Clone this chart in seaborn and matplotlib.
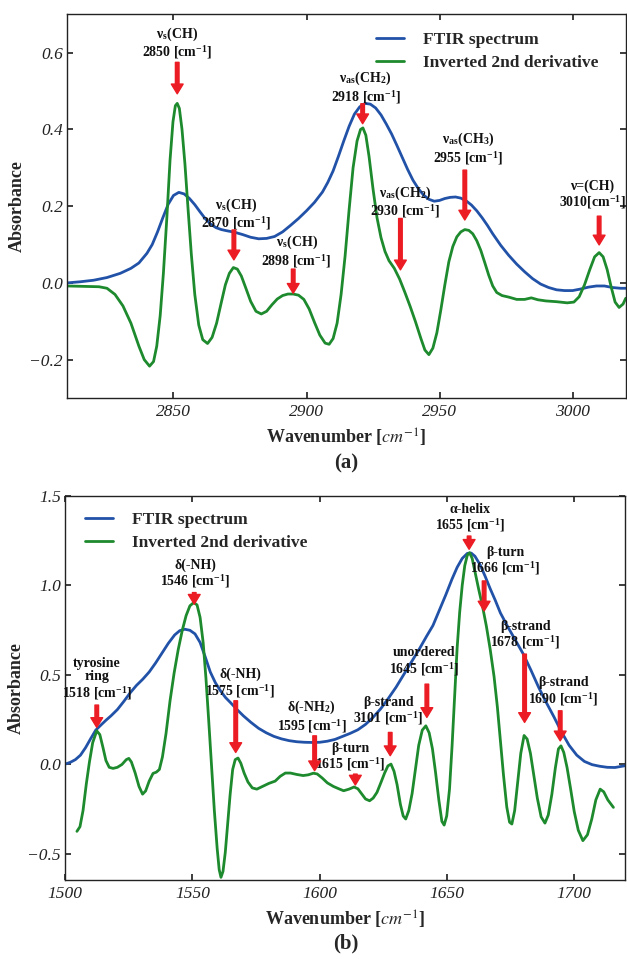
import pandas as pd
import numpy as np
import matplotlib
matplotlib.use("Agg")
import matplotlib.pyplot as plt
import seaborn as sns

# ---- panel (a): C-H stretching region ----
ftir_a_wn = [2810, 2815, 2820, 2825, 2830, 2834, 2837, 2840, 2842, 2844, 2846, 2848, 2850,
             2852, 2854, 2856, 2858, 2860, 2862, 2864, 2866, 2868, 2870, 2873, 2876, 2879,
             2882, 2885, 2888, 2891, 2894, 2897, 2900, 2903, 2906, 2908, 2910, 2912, 2914,
             2916, 2918, 2920, 2922, 2924, 2926, 2928, 2930, 2932, 2934, 2936, 2938, 2940,
             2942, 2944, 2946, 2948, 2950, 2952, 2954, 2956, 2958, 2960, 2962, 2964, 2966,
             2968, 2970, 2973, 2976, 2979, 2982, 2985, 2988, 2991, 2994, 2997, 3000, 3003,
             3006, 3009, 3012, 3015, 3018, 3020]
ftir_a_abs = [0.000, 0.003, 0.007, 0.014, 0.025, 0.038, 0.052, 0.077, 0.100, 0.133, 0.170,
              0.205, 0.228, 0.236, 0.232, 0.220, 0.204, 0.185, 0.167, 0.153, 0.144, 0.139,
              0.136, 0.132, 0.126, 0.119, 0.115, 0.116, 0.121, 0.133, 0.150, 0.168, 0.188,
              0.210, 0.237, 0.262, 0.292, 0.330, 0.370, 0.408, 0.440, 0.459, 0.468, 0.466,
              0.456, 0.438, 0.414, 0.388, 0.358, 0.327, 0.296, 0.268, 0.246, 0.229, 0.218,
              0.213, 0.215, 0.220, 0.223, 0.224, 0.221, 0.214, 0.203, 0.188, 0.170, 0.150,
              0.128, 0.098, 0.072, 0.049, 0.029, 0.011, -0.003, -0.012, -0.018, -0.020,
              -0.020, -0.016, -0.011, -0.008, -0.008, -0.012, -0.014, -0.014]

deriv_a_wn = [2810, 2816, 2822, 2825, 2828, 2831, 2834, 2837, 2839, 2841, 2842.5, 2843.7,
              2845, 2846.2, 2847.5, 2848.7, 2849.8, 2850.7, 2851.4, 2852.2, 2853.2, 2854.3,
              2855.5, 2856.7, 2858, 2859.5, 2861, 2862.8, 2864.5, 2866.2, 2868, 2869.5, 2871,
              2872.5, 2874, 2875.5, 2877, 2879, 2881, 2883, 2885, 2887, 2889, 2891, 2893,
              2895, 2897, 2899, 2901, 2903, 2905, 2907, 2908.5, 2910, 2911.5, 2913, 2914.5,
              2916, 2917.5, 2919, 2920.3, 2921.2, 2922.3, 2923.5, 2925, 2926.5, 2928, 2929.5,
              2931, 2933, 2935, 2937, 2939, 2941, 2943, 2944.5, 2946, 2947.5, 2949, 2950.5,
              2952, 2953.5, 2955, 2956.5, 2958, 2959.5, 2961, 2962.5, 2964, 2965.5, 2967,
              2968.5, 2970, 2971.5, 2973.5, 2976, 2979, 2982, 2984.5, 2987, 2990, 2994, 2998,
              3000.5, 3002.5, 3004.5, 3006.5, 3008.3, 3010, 3011.5, 3013, 3014.5, 3016,
              3017.5, 3019, 3020]
deriv_a_abs = [-0.008, -0.009, -0.010, -0.014, -0.030, -0.060, -0.105, -0.165, -0.200, -0.217,
               -0.205, -0.165, -0.085, 0.025, 0.170, 0.320, 0.420, 0.462, 0.468, 0.455, 0.400,
               0.310, 0.190, 0.075, -0.030, -0.110, -0.148, -0.158, -0.142, -0.105, -0.050,
               -0.005, 0.025, 0.040, 0.036, 0.018, -0.010, -0.048, -0.074, -0.081, -0.074,
               -0.057, -0.042, -0.033, -0.029, -0.029, -0.032, -0.043, -0.068, -0.103, -0.136,
               -0.157, -0.160, -0.145, -0.105, -0.030, 0.070, 0.190, 0.300, 0.370, 0.400,
               0.404, 0.385, 0.330, 0.245, 0.170, 0.118, 0.082, 0.058, 0.038, 0.010, -0.025,
               -0.062, -0.102, -0.145, -0.175, -0.187, -0.170, -0.130, -0.070, -0.005, 0.055,
               0.095, 0.120, 0.133, 0.139, 0.137, 0.128, 0.110, 0.085, 0.053, 0.020, -0.008,
               -0.025, -0.033, -0.037, -0.043, -0.043, -0.039, -0.044, -0.047, -0.049, -0.052,
               -0.050, -0.036, -0.005, 0.035, 0.068, 0.079, 0.068, 0.035, -0.010, -0.050,
               -0.064, -0.055, -0.040]

# peak labels for (a): label, text position, arrow x, arrow top, arrow tip
cm = r" [cm$^\mathregular{-1}$]"
labels_a = [r"ν$_\mathregular{s}$(CH)" + "\n2850" + cm,
            r"ν$_\mathregular{s}$(CH)" + "\n2870" + cm,
            r"ν$_\mathregular{s}$(CH)" + "\n2898" + cm,
            r"ν$_\mathregular{as}$(CH$_\mathregular{2}$)" + "\n2918" + cm,
            r"ν$_\mathregular{as}$(CH$_\mathregular{2}$)" + "\n2930" + cm,
            r"ν$_\mathregular{as}$(CH$_\mathregular{3}$)" + "\n2955" + cm,
            "ν=(CH)\n" + r"3010[cm$^\mathregular{-1}$]"]
label_a_x = [2851.3, 2873.7, 2896.3, 2922.3, 2937.0, 2960.7, 3007.5]
label_a_y = [0.625, 0.179, 0.081, 0.509, 0.210, 0.349, 0.228]
arrow_a_x = [2851.4, 2872.7, 2895.0, 2921.1, 2935.3, 2959.5, 3010.0]
arrow_a_top = [0.575, 0.138, 0.036, 0.467, 0.168, 0.294, 0.174]
arrow_a_tip = [0.493, 0.060, -0.027, 0.415, 0.034, 0.164, 0.099]

# ---- panel (b): amide region ----
ftir_b_wn = [1500, 1502, 1504, 1506, 1508, 1510, 1512, 1514, 1516, 1518, 1520.5, 1523, 1525.5,
             1528, 1530.5, 1533, 1535.5, 1538, 1540.5, 1543, 1545, 1547, 1549, 1551, 1553,
             1555, 1557, 1559, 1561, 1563, 1565, 1567.5, 1570, 1573, 1576, 1579, 1582, 1585,
             1588, 1591, 1594, 1597, 1600, 1603, 1606, 1609, 1612, 1615, 1618, 1621, 1624,
             1627, 1630, 1633, 1636, 1639, 1642, 1644.5, 1647, 1649.5, 1652, 1654, 1656, 1658,
             1659.5, 1661, 1663, 1665, 1667, 1669, 1671, 1674, 1677, 1680, 1683, 1686, 1689,
             1692, 1695, 1698, 1701, 1704, 1707, 1710, 1713, 1716, 1720]
ftir_b_abs = [0.000, 0.010, 0.025, 0.050, 0.092, 0.142, 0.190, 0.218, 0.245, 0.270, 0.305,
              0.350, 0.398, 0.440, 0.475, 0.515, 0.565, 0.620, 0.675, 0.722, 0.746, 0.754,
              0.748, 0.728, 0.680, 0.600, 0.515, 0.455, 0.410, 0.372, 0.343, 0.305, 0.270,
              0.233, 0.200, 0.175, 0.155, 0.141, 0.131, 0.125, 0.122, 0.121, 0.122, 0.128,
              0.138, 0.155, 0.172, 0.192, 0.222, 0.262, 0.310, 0.368, 0.430, 0.500, 0.570,
              0.640, 0.715, 0.775, 0.860, 0.945, 1.035, 1.100, 1.150, 1.178, 1.180, 1.162,
              1.115, 1.050, 0.980, 0.915, 0.845, 0.765, 0.690, 0.615, 0.525, 0.430, 0.345,
              0.265, 0.180, 0.105, 0.050, 0.015, -0.003, -0.012, -0.018, -0.019, -0.009]

deriv_b_wn = [1504.6, 1505.8, 1507, 1508.3, 1509.5, 1510.8, 1512.4, 1513.6, 1514.8, 1516,
              1517.3, 1518.8, 1520.5, 1522.3, 1524, 1525, 1526, 1527.5, 1529, 1530.4, 1531.6,
              1533, 1534.5, 1535.8, 1537, 1538.2, 1539.6, 1541.2, 1542.8, 1544.4, 1546, 1547.5,
              1549, 1550.5, 1551.8, 1553, 1554.2, 1555.3, 1556.4, 1557.5, 1558.6, 1559.7,
              1560.5, 1561.2, 1562, 1562.9, 1563.8, 1564.8, 1565.8, 1566.8, 1567.9, 1569,
              1570.3, 1571.8, 1573.5, 1575.3, 1577.5, 1580, 1582.5, 1584.5, 1586.5, 1588.5,
              1591, 1593.5, 1595.5, 1597.5, 1599, 1601, 1603, 1605.4, 1607.5, 1609.4, 1611.5,
              1613.5, 1615, 1616.6, 1618, 1619.6, 1621, 1622.5, 1624, 1625.5, 1626.8, 1628,
              1629.2, 1630.4, 1631.7, 1632.8, 1633.8, 1635, 1636.3, 1637.6, 1638.9, 1640.3,
              1641.7, 1643, 1644.3, 1645.5, 1646.8, 1648, 1648.9, 1649.9, 1651, 1652, 1653,
              1654, 1655, 1656, 1657, 1658, 1658.9, 1659.9, 1661, 1662.5, 1664, 1665.5, 1667,
              1668.5, 1669.8, 1671, 1672.2, 1673.5, 1674.6, 1675.5, 1676.6, 1677.8, 1679,
              1680.3, 1681.5, 1682.8, 1684.1, 1685.5, 1687, 1688.5, 1689.8, 1691.2, 1692.6,
              1693.8, 1694.8, 1695.9, 1697.2, 1698.6, 1700, 1701.6, 1703.4, 1705.2, 1706.9,
              1708.5, 1710.2, 1711.6, 1713.2, 1715.4]
deriv_b_abs = [-0.376, -0.350, -0.260, -0.110, 0.010, 0.120, 0.186, 0.165, 0.095, 0.020,
               -0.018, -0.024, -0.018, -0.002, 0.025, 0.032, 0.012, -0.050, -0.125, -0.168,
               -0.150, -0.095, -0.052, -0.045, -0.030, 0.040, 0.170, 0.355, 0.510, 0.640,
               0.748, 0.830, 0.885, 0.903, 0.890, 0.820, 0.680, 0.480, 0.240, -0.010, -0.260,
               -0.470, -0.590, -0.633, -0.600, -0.493, -0.340, -0.170, -0.030, 0.025, 0.034,
               0.005, -0.050, -0.100, -0.133, -0.140, -0.125, -0.108, -0.095, -0.068, -0.050,
               -0.050, -0.058, -0.064, -0.060, -0.051, -0.055, -0.078, -0.105, -0.125, -0.138,
               -0.149, -0.140, -0.128, -0.138, -0.168, -0.195, -0.205, -0.190, -0.158, -0.105,
               -0.050, -0.010, 0.000, -0.040, -0.115, -0.225, -0.290, -0.307, -0.260, -0.165,
               -0.030, 0.105, 0.190, 0.214, 0.175, 0.085, -0.045, -0.200, -0.320, -0.341,
               -0.290, -0.140, 0.100, 0.380, 0.650, 0.850, 1.000, 1.110, 1.168, 1.182, 1.150,
               1.075, 0.975, 0.880, 0.770, 0.640, 0.490, 0.320, 0.130, -0.060, -0.240, -0.325,
               -0.335, -0.260, -0.100, 0.060, 0.160, 0.140, 0.060, -0.060, -0.190, -0.295,
               -0.330, -0.285, -0.170, -0.020, 0.085, 0.102, 0.065, -0.020, -0.140, -0.265,
               -0.370, -0.428, -0.395, -0.307, -0.200, -0.140, -0.155, -0.200, -0.242]

labels_b = ["tyrosine\nring\n1518" + cm, "δ(-NH)\n1546" + cm, "δ(-NH)\n1575" + cm,
            r"δ(-NH$_\mathregular{2}$)" + "\n1595" + cm, "β-turn\n1615" + cm,
            "β-strand\n3101" + cm, "unordered\n1645" + cm, "α-helix\n1655" + cm,
            "β-turn\n1666" + cm, "β-strand\n1678" + cm, "β-strand\n1690" + cm]
label_b_x = [1512.5, 1551.1, 1568.8, 1596.9, 1612.0, 1627.0, 1641.1, 1659.1, 1672.9, 1680.7, 1695.8]
label_b_y = [0.475, 1.060, 0.450, 0.265, 0.037, 0.294, 0.571, 1.374, 1.134, 0.720, 0.402]
arrow_b_x = [1512.4, 1550.7, 1567.0, 1598.0, 1614.0, 1627.7, 1642.1, 1658.7, 1664.6, 1680.5, 1694.5]
arrow_b_top = [0.330, 0.959, 0.354, 0.158, -0.056, 0.177, 0.447, 1.275, 1.024, 0.615, 0.298]
arrow_b_tip = [0.205, 0.894, 0.065, -0.037, -0.117, 0.047, 0.261, 1.201, 0.856, 0.233, 0.130]

xticks_a = [2850, 2900, 2950, 3000]
yticks_a = [-0.2, 0.0, 0.2, 0.4, 0.6]
xticks_b = [1500, 1550, 1600, 1650, 1700]
yticks_b = [-0.5, 0.0, 0.5, 1.0, 1.5]

series_names = ["FTIR spectrum", "Inverted 2nd derivative"]
palette = {"FTIR spectrum": "#2152a8", "Inverted 2nd derivative": "#1e8a2e"}
arrow_color = "#ec1c24"

sns.set_theme(style="ticks")
plt.rcParams.update({
    "font.family": ["Liberation Serif", "DejaVu Serif"],
    "mathtext.fontset": "stix",
    "axes.edgecolor": "#222222",
    "axes.linewidth": 1.0,
    "xtick.direction": "in",
    "ytick.direction": "in",
    "xtick.top": True,
    "ytick.right": True,
    "xtick.major.size": 4,
    "ytick.major.size": 4,
    "xtick.major.pad": 4,
    "ytick.major.pad": 3,
})


def make_frame(wn1, ab1, wn2, ab2):
    d1 = pd.DataFrame({"Wavenumber": wn1, "Absorbance": ab1, "series": series_names[0]})
    d2 = pd.DataFrame({"Wavenumber": wn2, "Absorbance": ab2, "series": series_names[1]})
    return pd.concat([d1, d2], ignore_index=True)


def draw_panel(ax, df, xlim, ylim, xticks, yticks, labels, lx, ly, ax_x, a_top, a_tip,
               legend_anchor):
    sns.lineplot(data=df, x="Wavenumber", y="Absorbance", hue="series", palette=palette,
                 estimator=None, linewidth=2, ax=ax)
    ax.set_xlim(*xlim)
    ax.set_ylim(*ylim)
    ax.set_xticks(xticks)
    ax.set_yticks(yticks)
    for t in ax.get_xticklabels() + ax.get_yticklabels():
        t.set_fontstyle("italic")
        t.set_fontsize(12.5)
        t.set_color("#222222")

    ax.set_xlabel(r"Wavenumber [$cm^{-1}$]", fontsize=13, fontweight="bold")
    ax.set_ylabel("Absorbance", fontsize=13, fontweight="bold")
    ax.xaxis.set_label_coords(0.5, -0.074)
    ax.yaxis.set_label_coords(-0.073, 0.5)

    for txt, x, y in zip(labels, lx, ly):
        ax.text(x, y, txt, ha="center", va="center", multialignment="center",
                fontsize=10, fontweight="bold", linespacing=1.05, color="#111111")
    for x, top, tip in zip(ax_x, a_top, a_tip):
        ax.annotate("", xy=(x, tip), xytext=(x, top),
                    arrowprops=dict(facecolor=arrow_color, edgecolor=arrow_color,
                                    width=2.6, headwidth=8.5, headlength=7, shrink=0))

    handles, lbls = ax.get_legend_handles_labels()
    ax.legend(handles, lbls, loc="upper left", bbox_to_anchor=legend_anchor, frameon=False,
              borderpad=0, borderaxespad=0, handlelength=1.6, handletextpad=1.1,
              labelspacing=0.4, prop={"family": "Liberation Serif", "weight": "bold",
                                      "size": 12.5})


fig = plt.figure(figsize=(6.27, 9.59), dpi=100)
ax_a = fig.add_axes([0.107, 0.585, 0.891, 0.400])
ax_b = fig.add_axes([0.104, 0.082, 0.893, 0.401])

df_a = make_frame(ftir_a_wn, ftir_a_abs, deriv_a_wn, deriv_a_abs)
df_b = make_frame(ftir_b_wn, ftir_b_abs, deriv_b_wn, deriv_b_abs)

draw_panel(ax_a, df_a, (2810, 3020), (-0.3, 0.7), xticks_a, yticks_a,
           labels_a, label_a_x, label_a_y, arrow_a_x, arrow_a_top, arrow_a_tip,
           (0.553, 0.955))
draw_panel(ax_b, df_b, (1500, 1720), (-0.65, 1.5), xticks_b, yticks_b,
           labels_b, label_b_x, label_b_y, arrow_b_x, arrow_b_top, arrow_b_tip,
           (0.036, 0.958))

fig.text(0.552, 1 - 463 / 959, "(a)", ha="center", va="center", fontsize=15, fontweight="bold")
fig.text(0.551, 1 - 943 / 959, "(b)", ha="center", va="center", fontsize=15, fontweight="bold")

fig.savefig("out.png", dpi=100)
